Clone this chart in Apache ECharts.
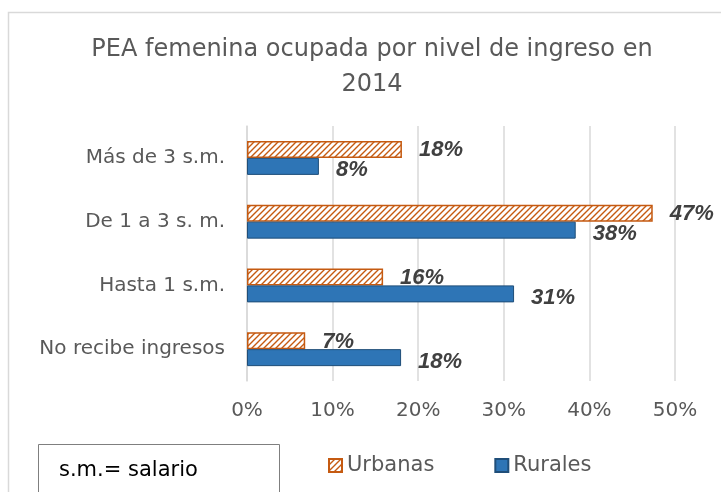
<html lang="es">
<head>
    <meta charset="UTF-8">
    <title>PEA femenina</title>
    <style>
        html, body { margin: 0; padding: 0; background: #fff; }
        #echart { width: 721px; height: 492px; }
    </style>
</head>
<body>
    <div id="echart"></div>
    <script src="https://cdn.jsdelivr.net/npm/echarts@6/dist/echarts.min.js"></script>
    <script>
        // datos
        const categorias = ['No recibe ingresos', 'Hasta 1 s.m.', 'De 1 a 3 s. m.', 'Más de 3 s.m.']
        const urbanas = [6.8, 15.9, 47.4, 18.1]
        const rurales = [18.0, 31.2, 38.4, 8.4]
        const ticksX = [0, 10, 20, 30, 40, 50]

        const fuente = 'DejaVu Sans, sans-serif'

        // patron rayado para urbanas
        function rayado() {
            const c = document.createElement('canvas')
            c.width = 6
            c.height = 6
            const ctx = c.getContext('2d')
            ctx.fillStyle = '#fff'
            ctx.fillRect(0, 0, 6, 6)
            ctx.strokeStyle = '#C55A11'
            ctx.lineWidth = 1.4
            ctx.beginPath()
            ctx.moveTo(-1, 7); ctx.lineTo(7, -1)
            ctx.moveTo(-4, 4); ctx.lineTo(4, -4)
            ctx.moveTo(2, 10); ctx.lineTo(10, 2)
            ctx.stroke()
            return c
        }

        const echart = echarts.init(document.getElementById('echart'))
        const etiqueta = {
            show: true,
            position: 'right',
            distance: 17,
            formatter: p => Math.round(p.value) + '%',
            color: '#404040',
            fontSize: 22,
            fontWeight: 'bold',
            fontStyle: 'italic',
            fontFamily: 'Liberation Sans, Arial, sans-serif'
        }

        echart.setOption({
            animation: false,
            textStyle: { fontFamily: fuente },
            title: {
                text: 'PEA femenina ocupada por nivel de ingreso en\n2014',
                left: 367,
                textAlign: 'center',
                top: 27,
                textStyle: { fontSize: 24, fontWeight: 'normal', color: '#595959', lineHeight: 35, fontFamily: fuente }
            },
            grid: { left: 247, right: 46, top: 126, bottom: 111 },
            legend: {
                data: ['Urbanas', 'Rurales'],
                left: 328,
                top: 455,
                icon: 'rect',
                itemWidth: 13,
                itemHeight: 13,
                itemGap: 60,
                padding: 0,
                textStyle: { fontSize: 21, color: '#595959', fontFamily: fuente }
            },
            xAxis: {
                type: 'value',
                min: ticksX[0],
                max: ticksX[ticksX.length - 1],
                interval: 10,
                axisLabel: { formatter: '{value}%', fontSize: 20, color: '#595959', margin: 20, fontFamily: fuente },
                splitLine: { lineStyle: { color: '#d9d9d9', width: 1.5 } },
                axisLine: { show: false },
                axisTick: { show: false }
            },
            yAxis: {
                type: 'category',
                data: categorias,
                axisLabel: { fontSize: 20, color: '#595959', margin: 22, fontFamily: fuente },
                axisLine: { lineStyle: { color: '#d9d9d9', width: 1.5 } },
                axisTick: { show: false }
            },
            series: [
                {
                    name: 'Urbanas',
                    type: 'bar',
                    data: urbanas,
                    barWidth: 17,
                    barGap: '0%',
                    itemStyle: {
                        color: { image: rayado(), repeat: 'repeat' },
                        borderColor: '#C55A11',
                        borderWidth: 1.5
                    },
                    label: Object.assign({}, etiqueta, { offset: [0, 1] })
                },
                {
                    name: 'Rurales',
                    type: 'bar',
                    data: rurales,
                    barWidth: 17,
                    barGap: '0%',
                    itemStyle: { color: '#2E75B6', borderColor: '#1F4E79', borderWidth: 1 },
                    label: Object.assign({}, etiqueta, { offset: [0, 4] })
                }
            ],
            graphic: [
                {
                    type: 'rect',
                    shape: { x: 8.5, y: 12.5, width: 720, height: 490 },
                    style: { fill: 'none', stroke: '#d9d9d9', lineWidth: 1.5 },
                    silent: true
                },
                {
                    type: 'rect',
                    shape: { x: 38.5, y: 444.5, width: 241, height: 60 },
                    style: { fill: '#fff', stroke: '#7f7f7f', lineWidth: 1 },
                    silent: true
                },
                {
                    type: 'text',
                    style: {
                        x: 59, y: 471, text: 's.m.= salario', fontSize: 21, fill: '#000',
                        verticalAlign: 'middle', fontFamily: fuente
                    }
                }
            ]
        })
    </script>
</body>
</html>
